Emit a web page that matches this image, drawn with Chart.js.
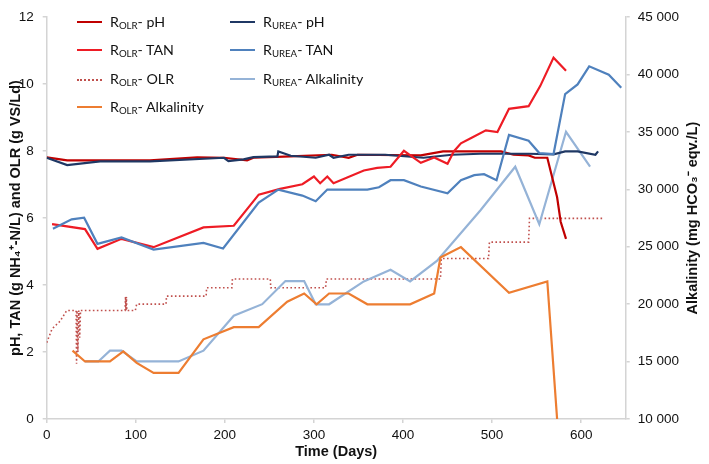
<!DOCTYPE html>
<html><head><meta charset="utf-8">
<script src="https://cdn.jsdelivr.net/npm/chart.js@4.4.0/dist/chart.umd.min.js"></script>
<style>
html,body{margin:0;padding:0;background:#fff;}
#wrap{position:relative;width:709px;height:464px;overflow:hidden;}
canvas{position:absolute;left:0;top:0;}
#legend{position:absolute;left:0;top:0;width:709px;height:464px;font-family:Lato,"Open Sans",sans-serif;font-size:14.2px;color:#111;pointer-events:none;}
.item{position:absolute;height:20px;line-height:20px;white-space:nowrap;}
.sw{position:absolute;left:0;top:10px;width:25px;height:0;}
.tx{position:absolute;left:33px;top:0;}
.tx sub{font-size:68%;vertical-align:-0.2em;line-height:0;}
</style></head><body>
<div id="wrap"><canvas id="c" width="709" height="464"></canvas><div id="legend"></div></div>
<script>
// ---- data (days, values) ----
const olrPhDays   = [0,23,116,169,199,225,232,274,320,339,349,420,445,510,524,541,548,562,573,577,583];
const olrPhVals   = [7.81,7.72,7.72,7.81,7.80,7.72,7.80,7.84,7.89,7.80,7.89,7.87,7.99,7.99,7.89,7.87,7.80,7.80,6.62,5.89,5.38];

const olrTanDays  = [6,43,57,84,120,176,210,238,262,287,300,307,315,322,356,371,386,401,420,435,450,457,465,476,493,506,519,541,554,569,583];
const olrTanVals  = [5.82,5.67,5.08,5.38,5.13,5.72,5.77,6.70,6.87,7.01,7.24,7.04,7.24,7.04,7.42,7.50,7.53,8.01,7.65,7.81,7.62,7.99,8.23,8.38,8.62,8.57,9.26,9.34,9.94,10.79,10.40];

const olrOlrDays  = [0,6,15,22.5,32,33,33.5,34,35,36,37,38,88,88.5,89,89.5,90,99.5,101,134,134.5,179,179.5,208,208.5,251,251.5,313,314,442,443,496,497,541,542,625];
const olrOlrVals  = [2.28,2.69,2.92,3.24,3.24,3.24,1.65,3.24,2.0,3.24,2.43,3.24,3.24,3.65,3.24,3.65,3.24,3.24,3.43,3.43,3.67,3.67,3.92,3.92,4.18,4.18,3.92,3.92,4.18,4.18,4.79,4.79,5.28,5.28,5.99,5.99];

const olrAlkDays  = [29,43,71,86,101,120,148,176,210,238,270,289,303,317,339,360,408,435,442,465,519,562,573];
const olrAlkVals  = [15950,15010,15010,15890,14890,14010,14010,16940,18000,18000,20220,20930,19990,20930,20930,19990,19990,20930,24060,24970,20990,21980,10000];

const ureaPhDays  = [0,23,60,116,199,204,221,232,259,260,274,302,317,322,339,380,423,455,487,541,569,582,596,616,619];
const ureaPhVals  = [7.80,7.58,7.69,7.69,7.80,7.70,7.75,7.82,7.84,7.99,7.86,7.80,7.89,7.80,7.89,7.89,7.80,7.89,7.92,7.92,7.90,7.99,7.99,7.89,7.99];

const ureaTanDays = [7,28,42,57,84,120,176,198,238,260,287,302,315,360,373,386,401,420,450,465,480,491,505,519,541,553,569,582,596,609,631,645];
const ureaTanVals = [5.68,5.96,6.01,5.23,5.42,5.06,5.26,5.09,6.46,6.85,6.67,6.50,6.85,6.85,6.92,7.13,7.13,6.94,6.74,7.13,7.28,7.31,7.13,8.48,8.31,7.94,7.91,9.70,9.99,10.53,10.28,9.89];

const ureaAlkDays = [43,58,71,84,101,148,176,210,242,268,289,302,317,356,386,408,438,487,526,553,583,610];
const ureaAlkVals = [15010,15010,15950,15950,15010,15010,15950,18990,20000,22010,22010,19990,19990,21980,23000,21980,23770,28180,31970,26960,35010,31970];

const xTicks = [0,100,200,300,400,500,600];

const legendItems = [
  {html:'R<sub>OLR</sub>- pH', key:'olrPh'},
  {html:'R<sub>OLR</sub>- TAN', key:'olrTan'},
  {html:'R<sub>OLR</sub>- OLR', key:'olrOlr'},
  {html:'R<sub>OLR</sub>- Alkalinity', key:'olrAlk'},
  {html:'R<sub>UREA</sub>- pH', key:'ureaPh'},
  {html:'R<sub>UREA</sub>- TAN', key:'ureaTan'},
  {html:'R<sub>UREA</sub>- Alkalinity', key:'ureaAlk'}
];

const pts = (d, v) => d.map((x, i) => ({x: x, y: v[i]}));

const styles = {
  olrPh:  {color:'#C00000', dash:[], w:2.2},
  olrTan: {color:'#EE1C25', dash:[], w:2.2},
  olrOlr: {color:'#C0504D', dash:[1.6,2.4], w:1.6},
  olrAlk: {color:'#ED7D31', dash:[], w:2.2},
  ureaPh: {color:'#1F3864', dash:[], w:2.2},
  ureaTan:{color:'#4F81BD', dash:[], w:2.2},
  ureaAlk:{color:'#95B3D7', dash:[], w:2.2}
};

function ds(key, label, d, v, axis) {
  const s = styles[key];
  return {label, data: pts(d, v), yAxisID: axis, borderColor: s.color, backgroundColor: s.color,
    borderWidth: s.w, borderDash: s.dash, pointRadius: 0, tension: 0, fill: false};
}

const datasets = [
  ds('olrAlk', 'R_OLR- Alkalinity', olrAlkDays, olrAlkVals, 'y2'),
  ds('ureaTan','R_UREA- TAN', ureaTanDays, ureaTanVals, 'y'),
  ds('olrTan', 'R_OLR- TAN', olrTanDays, olrTanVals, 'y'),
  ds('ureaPh', 'R_UREA- pH', ureaPhDays, ureaPhVals, 'y'),
  ds('olrPh',  'R_OLR- pH', olrPhDays, olrPhVals, 'y'),
  ds('ureaAlk','R_UREA- Alkalinity', ureaAlkDays, ureaAlkVals, 'y2'),
  ds('olrOlr', 'R_OLR- OLR', olrOlrDays, olrOlrVals, 'y')
];

const axisColor = '#D4D4D4';
const FAM = '"Liberation Sans", Arial, sans-serif';
const tickFont = {family: FAM, size: 13.5};
const titleFont = {family: FAM, size: 14.5, weight: 'bold'};
const rightTitleText = 'Alkalinity (mg HCO\u2083\u207B eqv./L)';
const fmt = v => String(v).replace(/\B(?=(\d{3})+(?!\d))/g, ' ');

// right-axis title reads bottom-to-top, like the left one
const rightTitle = {
  id: 'rightTitle',
  afterDraw(chart) {
    const ctx = chart.ctx, a = chart.chartArea;
    ctx.save();
    ctx.translate(693, (a.top + a.bottom) / 2);
    ctx.rotate(-Math.PI / 2);
    ctx.font = 'bold 14.5px ' + FAM;
    ctx.fillStyle = '#111';
    ctx.textAlign = 'center';
    ctx.textBaseline = 'middle';
    ctx.fillText(rightTitleText, 0, 0);
    ctx.restore();
  }
};

new Chart(document.getElementById('c'), {
  type: 'line',
  data: {datasets},
  plugins: [rightTitle],
  options: {
    responsive: false, animation: false,
    layout: {padding: {top: 8, right: 0, left: 0, bottom: 0}},
    plugins: {legend: {display: false}, tooltip: {enabled: false}},
    scales: {
      x: {type: 'linear', min: 0, max: 650,
        afterBuildTicks: s => { s.ticks = xTicks.map(v => ({value: v})); },
        afterFit: s => { s.height = 45; },
        ticks: {color: '#111', font: tickFont, padding: 4, maxRotation: 0},
        grid: {drawOnChartArea: false, drawTicks: true, tickLength: 4, color: axisColor, lineWidth: 1.5},
        border: {color: axisColor, width: 1.5},
        title: {display: true, text: 'Time (Days)', color: '#111', font: titleFont, padding: {top: 0, bottom: 3}}
      },
      y: {position: 'left', min: 0, max: 12,
        ticks: {stepSize: 2, color: '#111', font: tickFont, padding: 9},
        afterFit: s => { s.width = 46.7; },
        grid: {drawOnChartArea: false, drawTicks: true, tickLength: 4, color: axisColor, lineWidth: 1.5},
        border: {color: axisColor, width: 1.5},
        title: {display: true, text: 'pH, TAN (g NH\u2084\u207A-N/L) and OLR (g VS/Ld)', color: '#111', font: titleFont, padding: {top: 7, bottom: 0}}
      },
      y2: {position: 'right', min: 10000, max: 45000,
        ticks: {stepSize: 5000, color: '#111', font: tickFont, padding: 8, callback: v => fmt(v)},
        afterFit: s => { s.width = 83.3; },
        grid: {drawOnChartArea: false, drawTicks: true, tickLength: 4, color: axisColor, lineWidth: 1.5},
        border: {color: axisColor, width: 1.5},
        title: {display: false}
      }
    }
  }
});

// HTML legend (needs subscripts)
const legendPos = [
  {left: 77, top: 12}, {left: 77, top: 40}, {left: 77, top: 69}, {left: 77, top: 97},
  {left: 230, top: 12}, {left: 230, top: 40}, {left: 230, top: 69}
];
const lg = document.getElementById('legend');
legendItems.forEach((it, i) => {
  const s = styles[it.key];
  const el = document.createElement('div');
  el.className = 'item';
  el.style.left = legendPos[i].left + 'px';
  el.style.top = legendPos[i].top + 'px';
  const sw = document.createElement('div');
  sw.className = 'sw';
  sw.style.borderTop = s.dash.length ? '2px dotted ' + s.color : '2.5px solid ' + s.color;
  if (!s.dash.length) sw.style.top = '9px';
  const tx = document.createElement('div');
  tx.className = 'tx';
  tx.innerHTML = it.html;
  el.appendChild(sw); el.appendChild(tx);
  lg.appendChild(el);
});
</script>
</body></html>
